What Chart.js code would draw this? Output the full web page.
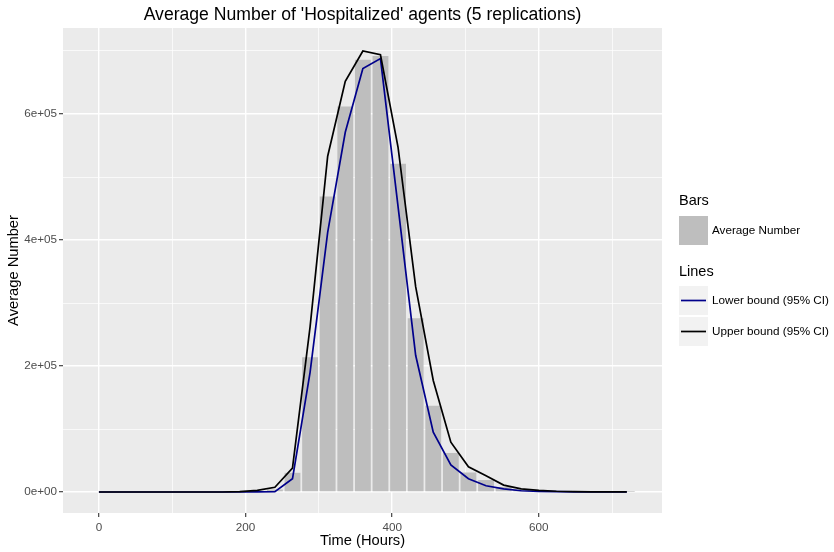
<!DOCTYPE html>
<html><head><meta charset="utf-8">
<script src="https://cdn.jsdelivr.net/npm/chart.js@4/dist/chart.umd.min.js"></script>
<style>html,body{margin:0;padding:0;background:#fff;} canvas{display:block;}</style>
</head><body>
<canvas id="c" width="834" height="552"></canvas>
<script>
const hours = [0,24,48,72,96,120,144,168,192,216,240,264,288,312,336,360,384,408,432,456,480,504,528,552,576,600,624,648,672,696,720];
const averageNumber = [0,0,0,0,0,0,0,0,200,1500,4000,30500,214000,469000,612000,686000,692000,521000,276000,137000,62000,31000,19000,8000,4000,1500,800,400,200,100,100];
const lowerBound = [0,0,0,0,0,0,0,0,0,200,500,21000,190000,412000,571000,672000,688000,453000,217000,95000,43000,21000,10000,5000,2000,1000,500,200,100,0,0];
const upperBound = [0,0,0,0,0,0,0,0,500,2500,7500,38000,262000,533000,652000,700000,694000,547000,326000,177000,79000,40000,26000,11000,5000,2500,1200,600,300,200,100];
const xTickValues = [0,200,400,600];
const xTickLabels = ['0','200','400','600'];
const xMinorValues = [100,300,500,700];
const yTickValues = [0,200000,400000,600000];
const yTickLabels = ['0e+00','2e+05','4e+05','6e+05'];
const yMinorValues = [100000,300000,500000,700000];
const chartTitle = "Average Number of 'Hospitalized' agents (5 replications)";
const xTitle = 'Time (Hours)';
const yTitle = 'Average Number';
const legendBarsTitle = 'Bars';
const legendLinesTitle = 'Lines';
const barLabel = 'Average Number';
const lowerLabel = 'Lower bound (95% CI)';
const upperLabel = 'Upper bound (95% CI)';

const FONT = '"Liberation Sans", Arial, Helvetica, sans-serif';
Chart.defaults.font.family = FONT;

const BAR_COLOR = '#BEBEBE';
const LOWER_COLOR = '#00008B';
const UPPER_COLOR = '#000000';

const panelPlugin = {
  id: 'panel',
  beforeDraw(chart) {
    const {ctx, chartArea: a} = chart;
    ctx.save();
    ctx.fillStyle = '#EBEBEB';
    ctx.fillRect(a.left, a.top, a.right - a.left, a.bottom - a.top);
    ctx.restore();
  },
  afterDraw(chart) {
    const {ctx, chartArea: a} = chart;
    ctx.save();
    ctx.fillStyle = '#000';
    ctx.font = '17.6px ' + FONT;
    ctx.textAlign = 'center';
    ctx.textBaseline = 'middle';
    ctx.fillText(chartTitle, (a.left + a.right) / 2, 15);
    const lx = 679;
    ctx.textAlign = 'left';
    ctx.font = '14.5px ' + FONT;
    ctx.fillText(legendBarsTitle, lx, 201);
    ctx.fillStyle = BAR_COLOR;
    ctx.fillRect(lx, 216, 29, 29);
    ctx.fillStyle = '#000';
    ctx.font = '11.7px ' + FONT;
    ctx.fillText(barLabel, 712, 231);
    ctx.font = '14.5px ' + FONT;
    ctx.fillText(legendLinesTitle, lx, 272);
    const keys = [[286, LOWER_COLOR, lowerLabel], [317, UPPER_COLOR, upperLabel]];
    keys.forEach(([ky, col, lab]) => {
      ctx.fillStyle = '#F2F2F2';
      ctx.fillRect(lx, ky, 29, 29);
      ctx.strokeStyle = col;
      ctx.lineWidth = 1.7;
      ctx.beginPath();
      ctx.moveTo(lx + 2, ky + 14.5);
      ctx.lineTo(lx + 27, ky + 14.5);
      ctx.stroke();
      ctx.fillStyle = '#000';
      ctx.font = '11.7px ' + FONT;
      ctx.fillText(lab, 712, ky + 14.5);
    });
    ctx.restore();
  }
};

function gridOpts(majors) {
  return {
    offset: false,
    color: '#FFFFFF',
    lineWidth: c => (c.tick && majors.includes(c.tick.value)) ? 1.4 : 0.7,
    drawTicks: true,
    tickLength: 4,
    tickWidth: 1.1,
    tickColor: c => (c.tick && majors.includes(c.tick.value)) ? '#333333' : 'rgba(0,0,0,0)'
  };
}

new Chart(document.getElementById('c'), {
  type: 'bar',
  data: {
    datasets: [
      {
        type: 'line', label: upperLabel, order: 1,
        data: hours.map((h, i) => ({x: h, y: upperBound[i]})),
        borderColor: UPPER_COLOR, borderWidth: 1.7, pointRadius: 0, tension: 0, fill: false
      },
      {
        type: 'line', label: lowerLabel, order: 2,
        data: hours.map((h, i) => ({x: h, y: lowerBound[i]})),
        borderColor: LOWER_COLOR, borderWidth: 1.7, pointRadius: 0, tension: 0, fill: false
      },
      {
        type: 'bar', label: barLabel, order: 3,
        data: hours.map((h, i) => ({x: h, y: averageNumber[i]})),
        backgroundColor: BAR_COLOR, borderWidth: 0,
        barPercentage: 0.9, categoryPercentage: 1.0
      }
    ]
  },
  options: {
    responsive: false,
    animation: false,
    devicePixelRatio: 1,
    layout: { padding: { top: 28, right: 172, bottom: 0, left: 0 } },
    plugins: { legend: { display: false }, tooltip: { enabled: false }, title: { display: false } },
    scales: {
      x: {
        type: 'linear', min: -49, max: 768, offset: false,
        afterBuildTicks: s => { s.ticks = xTickValues.concat(xMinorValues).sort((a, b) => a - b).map(v => ({value: v})); },
        ticks: {
          autoSkip: false, maxRotation: 0, padding: 4, color: '#4D4D4D', font: { size: 11.7 },
          callback: v => { const i = xTickValues.indexOf(v); return i >= 0 ? xTickLabels[i] : ''; }
        },
        grid: gridOpts(xTickValues),
        border: { display: false },
        title: { display: true, text: xTitle, color: '#000', font: { size: 14.7 }, padding: { top: 0, bottom: 2 } },
        afterFit: s => { s.height = 39; }
      },
      y: {
        type: 'linear', min: -33300, max: 736500,
        afterBuildTicks: s => { s.ticks = yTickValues.concat(yMinorValues).sort((a, b) => a - b).map(v => ({value: v})); },
        ticks: {
          autoSkip: false, padding: 2, color: '#4D4D4D', font: { size: 11.7 },
          callback: v => { const i = yTickValues.indexOf(v); return i >= 0 ? yTickLabels[i] : ''; }
        },
        grid: gridOpts(yTickValues),
        border: { display: false },
        title: { display: true, text: yTitle, color: '#000', font: { size: 14.7 }, padding: { top: 5, bottom: 0 } },
        afterFit: s => { s.width = 63; }
      }
    }
  },
  plugins: [panelPlugin]
});
</script>
</body></html>
